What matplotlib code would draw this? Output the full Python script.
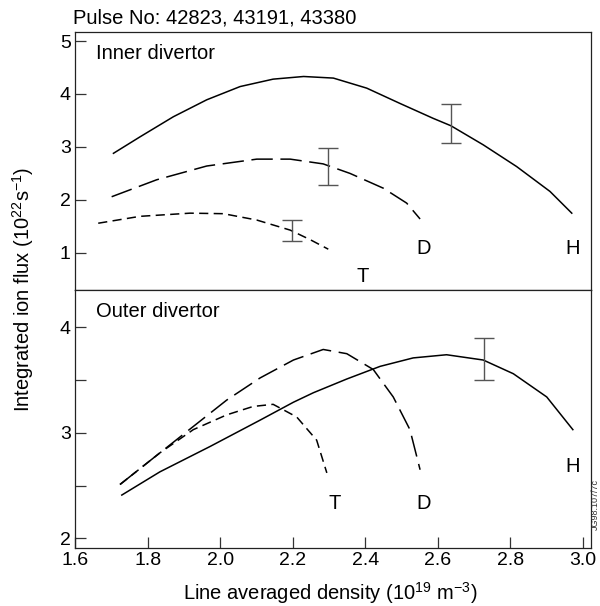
import matplotlib
matplotlib.use("Agg")
import matplotlib.pyplot as plt

plt.rcParams["font.family"] = ["Liberation Sans", "DejaVu Sans"]
plt.rcParams["mathtext.fontset"] = "custom"
plt.rcParams["mathtext.rm"] = "Liberation Sans"
plt.rcParams["mathtext.it"] = "Liberation Sans:italic"
plt.rcParams["mathtext.default"] = "regular"

# inner divertor curves (density, flux)
inner_h_x = [1.706, 1.779, 1.871, 1.963, 2.055, 2.146, 2.230, 2.312, 2.404, 2.496,
             2.587, 2.636, 2.725, 2.817, 2.909, 2.969]
inner_h_y = [2.88, 3.19, 3.57, 3.89, 4.14, 4.28, 4.33, 4.30, 4.11, 3.82,
             3.54, 3.40, 3.04, 2.63, 2.16, 1.75]
inner_d_x = [1.701, 1.825, 1.963, 2.101, 2.193, 2.284, 2.358, 2.450, 2.514, 2.551]
inner_d_y = [2.06, 2.38, 2.64, 2.77, 2.77, 2.68, 2.50, 2.22, 1.94, 1.64]
inner_t_x = [1.664, 1.779, 1.917, 2.009, 2.101, 2.193, 2.248, 2.298]
inner_t_y = [1.56, 1.69, 1.75, 1.74, 1.62, 1.43, 1.25, 1.07]

# outer divertor curves
outer_h_x = [1.729, 1.834, 1.972, 2.110, 2.202, 2.257, 2.349, 2.441, 2.532, 2.624,
             2.725, 2.808, 2.900, 2.972]
outer_h_y = [2.41, 2.63, 2.87, 3.12, 3.29, 3.38, 3.51, 3.63, 3.71, 3.74,
             3.69, 3.56, 3.34, 3.03]
outer_d_x = [1.724, 1.834, 1.926, 2.018, 2.110, 2.202, 2.284, 2.349, 2.422, 2.477,
             2.523, 2.551]
outer_d_y = [2.51, 2.81, 3.06, 3.31, 3.52, 3.69, 3.79, 3.75, 3.60, 3.34,
             3.03, 2.65]
outer_t_x = [1.724, 1.834, 1.926, 2.018, 2.091, 2.146, 2.211, 2.266, 2.294]
outer_t_y = [2.51, 2.81, 3.03, 3.17, 3.25, 3.27, 3.15, 2.93, 2.62]

# error bars
inner_err_x = [2.197, 2.296, 2.636]
inner_err_y = [1.425, 2.63, 3.45]
inner_err = [0.195, 0.35, 0.37]
outer_err_x = [2.728]
outer_err_y = [3.70]
outer_err = [0.20]

fig = plt.figure(figsize=(6.0, 6.06), dpi=100)
ax1 = fig.add_axes([0.125, 0.5215, 0.86, 0.4257])
ax2 = fig.add_axes([0.125, 0.0957, 0.86, 0.4258], sharex=ax1)

long_dash = (0, (14, 5))
short_dash = (0, (6, 3.5))
lw = 1.1

ax1.plot(inner_h_x, inner_h_y, color="black", lw=lw)
ax1.plot(inner_d_x, inner_d_y, color="black", lw=lw, linestyle=long_dash)
ax1.plot(inner_t_x, inner_t_y, color="black", lw=lw, linestyle=short_dash)
ax1.errorbar(inner_err_x, inner_err_y, yerr=inner_err, fmt="none",
             ecolor="#555555", elinewidth=1.0, capsize=7, capthick=1.0)

ax2.plot(outer_h_x, outer_h_y, color="black", lw=lw)
ax2.plot(outer_d_x, outer_d_y, color="black", lw=lw, linestyle=long_dash)
ax2.plot(outer_t_x, outer_t_y, color="black", lw=lw, linestyle=short_dash)
ax2.errorbar(outer_err_x, outer_err_y, yerr=outer_err, fmt="none",
             ecolor="#555555", elinewidth=1.0, capsize=7, capthick=1.0)

fs = 14.5
ax1.text(2.562, 1.09, "D", fontsize=fs, ha="center", va="center")
ax1.text(2.970, 1.09, "H", fontsize=fs, ha="center", va="center")
ax1.text(2.394, 0.55, "T", fontsize=fs, ha="center", va="center")
ax2.text(2.316, 2.33, "T", fontsize=fs, ha="center", va="center")
ax2.text(2.562, 2.33, "D", fontsize=fs, ha="center", va="center")
ax2.text(2.972, 2.685, "H", fontsize=fs, ha="center", va="center")

ax1.text(0.041, 0.915, "Inner divertor", transform=ax1.transAxes, fontsize=fs, va="center")
ax2.text(0.041, 0.915, "Outer divertor", transform=ax2.transAxes, fontsize=fs, va="center")

ax1.set_xlim(1.6, 3.022)
ax1.set_ylim(0.3, 5.17)
ax2.set_ylim(1.908, 4.354)

ax1.set_yticks([1, 2, 3, 4, 5])
ax2.set_yticks([2, 3, 4])
ax2.set_yticks([2.5, 3.5], minor=True)
ax2.set_xticks([1.6, 1.8, 2.0, 2.2, 2.4, 2.6, 2.8, 3.0])
ax2.set_xticklabels(["1.6", "1.8", "2.0", "2.2", "2.4", "2.6", "2.8", "3.0"])

for ax in (ax1, ax2):
    ax.tick_params(axis="both", direction="in", length=8, width=0.9,
                   labelsize=14, color="#333333", pad=3)
    ax.tick_params(axis="y", which="minor", direction="in", length=8, width=0.9,
                   color="#333333")
    for sp in ax.spines.values():
        sp.set_linewidth(0.9)
        sp.set_color("#222222")
ax1.tick_params(axis="x", bottom=False, labelbottom=False)

fig.text(0.122, 0.970, "Pulse No: 42823, 43191, 43380", fontsize=fs,
         ha="left", va="center")
fig.text(0.038, 0.523, "Integrated ion flux (10$^{22}$s$^{-1}$)", fontsize=fs,
         rotation=90, ha="center", va="center")
fig.text(0.55, 0.022, "Line averaged density (10$^{19}$ m$^{-3}$)", fontsize=fs,
         ha="center", va="center")
fig.text(0.993, 0.168, "JG98.107/7c", fontsize=6.5, rotation=90,
         ha="center", va="center", color="#333333")

fig.savefig("out.png", dpi=100)
